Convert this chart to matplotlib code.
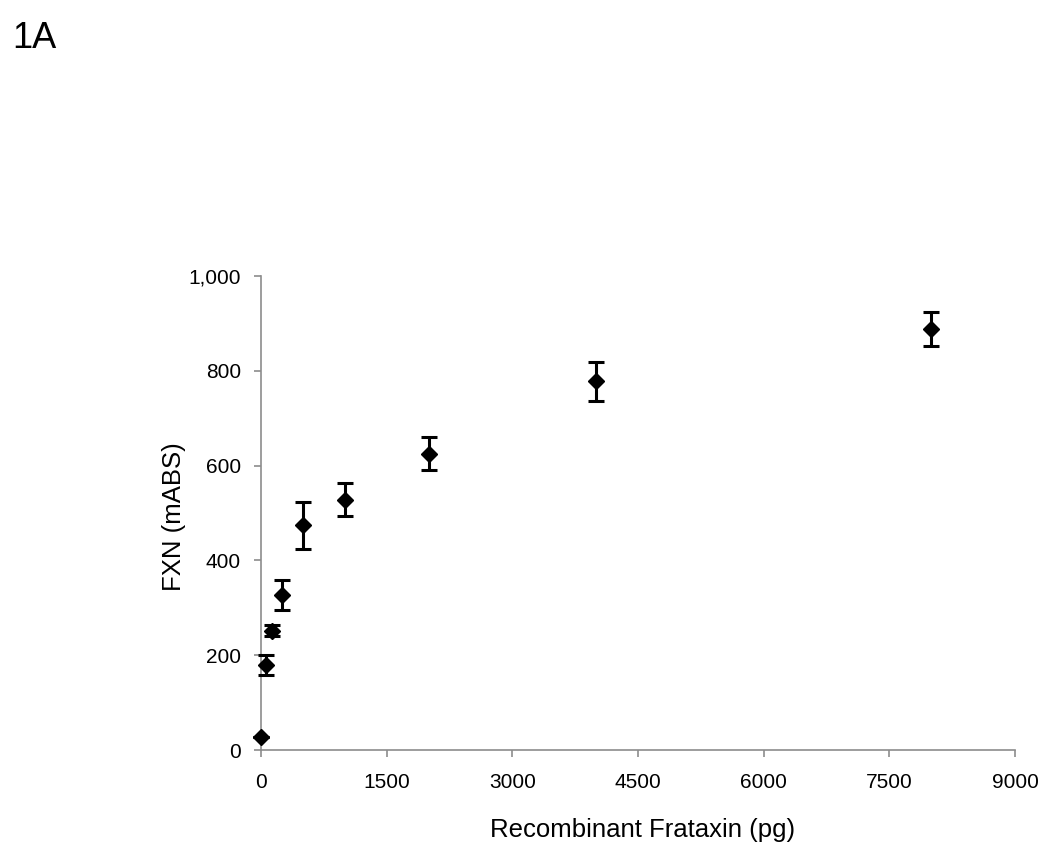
import matplotlib
matplotlib.use("Agg")
import matplotlib.pyplot as plt
from matplotlib.ticker import FuncFormatter

plt.rcParams['font.family'] = ['Liberation Sans', 'DejaVu Sans']

frataxin_pg = [0, 62.5, 125, 250, 500, 1000, 2000, 4000, 8000]
fxn_mabs = [28, 180, 252, 327, 474, 528, 625, 778, 889]
fxn_err = [0, 21, 12, 31, 50, 35, 35, 41, 36]

x_ticks = [0, 1500, 3000, 4500, 6000, 7500, 9000]
y_ticks = [0, 200, 400, 600, 800, 1000]

fig = plt.figure(figsize=(10.5, 8.52), dpi=100)
ax = fig.add_axes([0.2486, 0.1197, 0.9667 - 0.2486, 0.676 - 0.1197])

ax.errorbar(frataxin_pg, fxn_mabs, yerr=fxn_err, fmt='D', color='black',
            markersize=8, ecolor='black', elinewidth=2.2, capsize=5.5,
            capthick=2.2, clip_on=False, zorder=3)

ax.set_xlim(0, 9000)
ax.set_ylim(0, 1000)
ax.set_xticks(x_ticks)
ax.set_yticks(y_ticks)
ax.yaxis.set_major_formatter(FuncFormatter(lambda v, p: f"{int(v):,}"))

for s in ['top', 'right']:
    ax.spines[s].set_visible(False)
for s in ['left', 'bottom']:
    ax.spines[s].set_color('#8c8c8c')
    ax.spines[s].set_linewidth(1.2)

ax.tick_params(axis='both', direction='out', length=5, width=1.2,
               color='#8c8c8c', labelsize=15, labelcolor='black')
ax.tick_params(axis='x', pad=11.5)
ax.tick_params(axis='y', pad=9.5)

ax.set_xlabel('Recombinant Frataxin (pg)', fontsize=18.5)
ax.set_ylabel('FXN (mABS)', fontsize=18.5)
ax.xaxis.set_label_coords(0.506, -0.143)
ax.yaxis.set_label_coords(-0.1, 0.492)

fig.text(0.012, 1 - 47.5 / 852, '1A', fontsize=26, ha='left', va='baseline')

fig.savefig('out.png', dpi=100)
